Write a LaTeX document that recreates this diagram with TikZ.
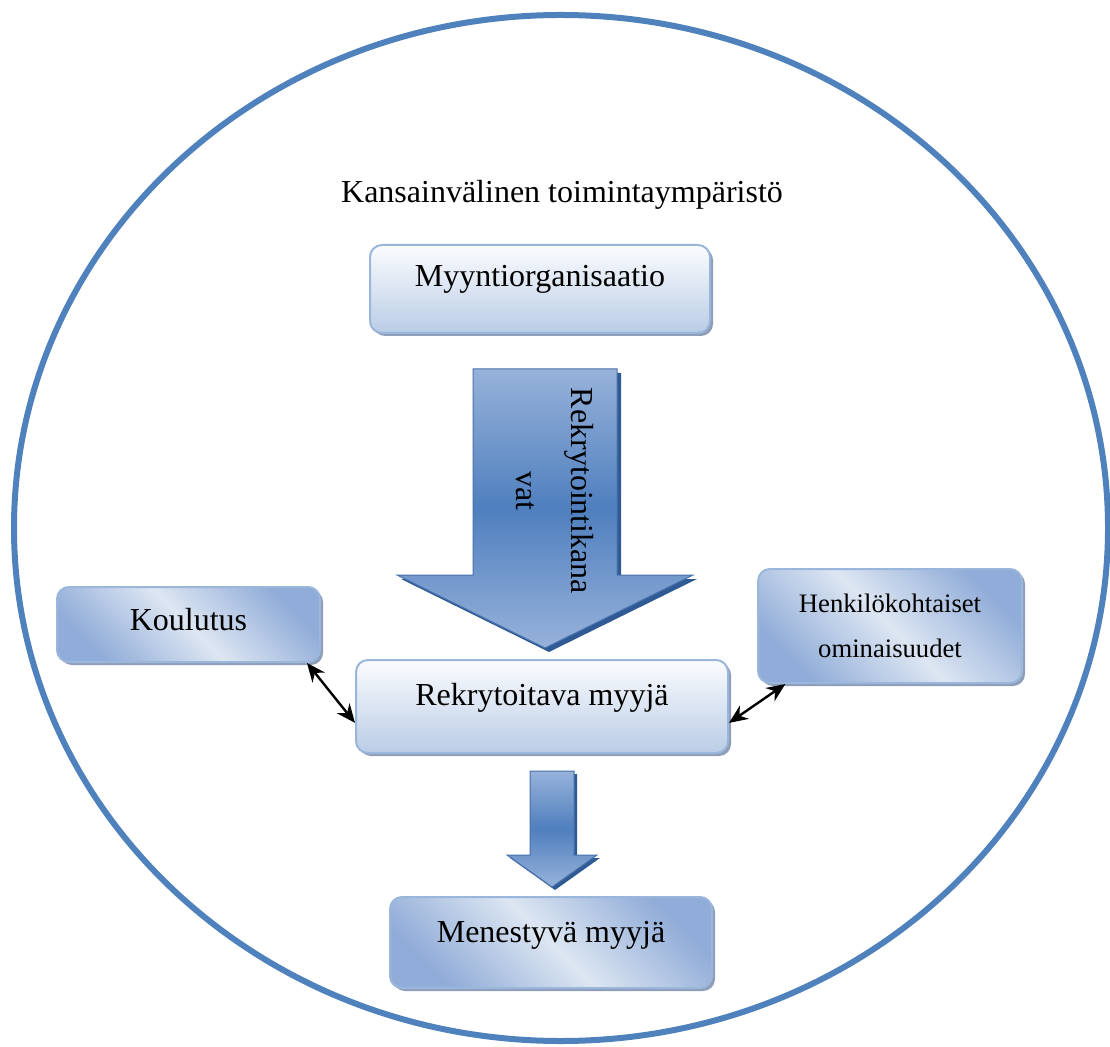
\documentclass[tikz,border=0pt]{standalone}
\usepackage{fontspec}
\setmainfont{Liberation Serif}
\usetikzlibrary{shadows,arrows.meta}

\definecolor{ringblue}{HTML}{4F81BD}
\definecolor{boxedge}{HTML}{9BB6DB}
\definecolor{boxlight}{HTML}{FBFCFE}
\definecolor{boxblue}{HTML}{BACCE6}
\definecolor{boxmid}{HTML}{DDE6F2}
\definecolor{boxdark}{HTML}{90ACD8}
\definecolor{boxshade}{HTML}{8E9EB8}
\definecolor{arrowlight}{HTML}{97B2DA}
\definecolor{arrowdark}{HTML}{4F7FBE}
\definecolor{arrowshade}{HTML}{2F5A94}

\begin{document}
\begin{tikzpicture}[x=0.375pt,y=-0.375pt]
    \newcommand{\px}[0]{0.375pt}
    \tikzstyle{ring}  = [line width=6*\px,draw=ringblue]
    \tikzstyle{dedge} = [line width=0.9pt,<->,>={Stealth[length=7pt,width=6pt]},draw=black]
    \tikzstyle{box}=[
      rounded corners=12*\px,
      draw=boxedge,
      line width=2*\px,
      inner sep=0pt,
      align=center,
      font=\fontsize{12}{14}\selectfont,
      drop shadow={shadow xshift=3*\px,shadow yshift=-3*\px,fill=boxshade,opacity=1}
    ]
    \tikzstyle{plainbox}=[box,top color=boxlight,bottom color=boxblue]
    \tikzstyle{slantbox}=[box,top color=boxdark,bottom color=boxdark,middle color=boxmid,shading angle=-45]
    \tikzstyle{blockarrow}=[
      draw=arrowdark!90!black,
      line width=1*\px,
      top color=arrowlight,
      bottom color=arrowlight,
      middle color=arrowdark
    ]
    \tikzstyle{blockshadow}=[fill=arrowshade]

    \useasboundingbox (0,0) rectangle (1110,1046);

    % outer ring
    \draw[ring] (561,528) ellipse [x radius=547, y radius=513];
    \node[font=\fontsize{12}{14}\selectfont] (title) at (562,195) {Kansainvälinen toimintaympäristö};

    % boxes
    \node[plainbox,minimum width=340*\px,text height=42*\px,text depth=46*\px] (myynti) at (540,289) {Myyntiorganisaatio};
    \node[plainbox,minimum width=372*\px,text height=45*\px,text depth=48*\px] (rekry) at (542,706.5) {Rekrytoitava myyjä};
    \node[slantbox,minimum width=263*\px,text height=43*\px,text depth=32*\px] (koulutus) at (188.5,624.5) {Koulutus};
    \node[slantbox,minimum width=264*\px,minimum height=114*\px,font=\fontsize{10}{16.9}\selectfont] (henk) at (890,626) {Henkilökohtaiset\\ominaisuudet};
    \node[slantbox,minimum width=322*\px,text height=45*\px,text depth=46*\px] (menestys) at (551,942.5) {Menestyvä myyjä};

    % block arrows
    \fill[blockshadow] (477,373) -- (621,373) -- (621,579) -- (697,579) -- (549,652) -- (401,579) -- (477,579) -- cycle;
    \draw[blockarrow] (473,369) -- (617,369) -- (617,575) -- (693,575) -- (545,648) -- (397,575) -- (473,575) -- cycle;
    \node[rotate=-90,align=center,font=\fontsize{12}{20.6}\selectfont] (kanavat) at (555,491) {Rekrytointikana\\vat};

    \fill[blockshadow] (533,774) -- (577,774) -- (577,858) -- (600,858) -- (555,890) -- (510,858) -- (533,858) -- cycle;
    \draw[blockarrow] (530,771) -- (574,771) -- (574,855) -- (597,855) -- (552,887) -- (507,855) -- (530,855) -- cycle;

    \draw[dedge] (koulutus.-18)--(rekry.185);
    \draw[dedge] (rekry.-5)--(henk.209);
\end{tikzpicture}
\end{document}
